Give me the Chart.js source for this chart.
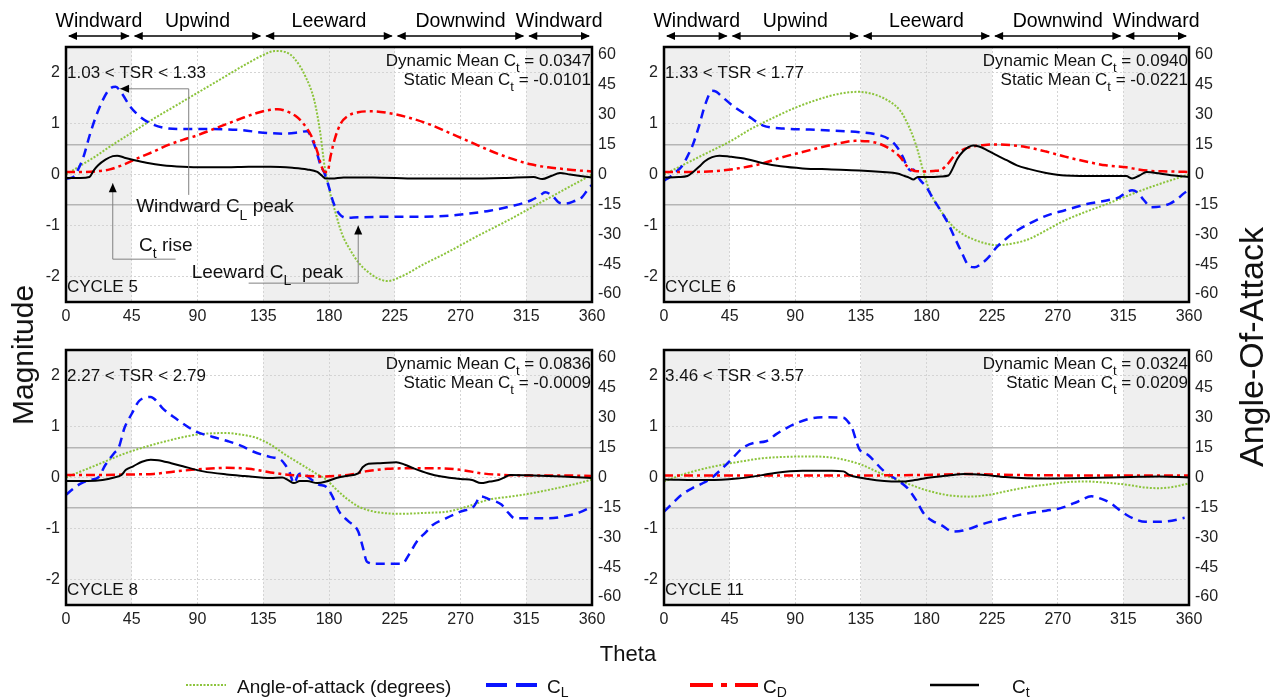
<!DOCTYPE html>
<html><head><meta charset="utf-8">
<script src="https://cdn.jsdelivr.net/npm/chart.js@4.4.0/dist/chart.umd.min.js"></script>
<style>
body{margin:0;background:#fff;width:1274px;height:697px;overflow:hidden;position:relative;font-family:'Liberation Sans',Arial,sans-serif;color:#111;}
canvas{position:absolute;left:0;top:0;}
.t{position:absolute;white-space:nowrap;transform:translate(-50%,-50%);line-height:1;}
.rot{transform:translate(-50%,-50%) rotate(-90deg);}
.lg{position:absolute;white-space:nowrap;font-size:19px;line-height:1;transform:translateY(-50%);}
.lg sub{font-size:14px;vertical-align:-4px;line-height:0;}
svg{position:absolute;}
</style></head><body>
<canvas id="c1" width="1274" height="697"></canvas>
<canvas id="c2" width="1274" height="697"></canvas>
<canvas id="c3" width="1274" height="697"></canvas>
<canvas id="c4" width="1274" height="697"></canvas>

<div class="t" style="left:628px;top:654px;font-size:22px">Theta</div>
<div class="t rot" style="left:23px;top:355px;font-size:30px">Magnitude</div>
<div class="t rot" style="left:1251px;top:347px;font-size:34px">Angle-Of-Attack</div>

<svg style="left:184px;top:678px" width="44" height="14"><line x1="2" y1="7" x2="42" y2="7" stroke="#8cc43c" stroke-width="2" stroke-dasharray="2 1.5"/></svg>
<div class="lg" style="left:237px;top:686px">Angle-of-attack (degrees)</div>
<svg style="left:484px;top:678px" width="56" height="14"><line x1="2" y1="7" x2="53" y2="7" stroke="#0a14ff" stroke-width="4" stroke-dasharray="21 9"/></svg>
<div class="lg" style="left:547px;top:686px">C<sub>L</sub></div>
<svg style="left:688px;top:678px" width="72" height="14"><line x1="2" y1="7" x2="70" y2="7" stroke="#ff0000" stroke-width="4" stroke-dasharray="23 8 6 8 23"/></svg>
<div class="lg" style="left:763px;top:686px">C<sub>D</sub></div>
<svg style="left:928px;top:678px" width="54" height="14"><line x1="2" y1="7" x2="51" y2="7" stroke="#000" stroke-width="2.5"/></svg>
<div class="lg" style="left:1012px;top:686px">C<sub>t</sub></div>

<script>
// ---------------- DATA ----------------
const X_TICKS=[0,45,90,135,180,225,270,315,360];
const MAG_TICKS=[-2,-1,0,1,2];
const AOA_TICKS=[-60,-45,-30,-15,0,15,30,45,60];
const SECTION_NAMES=['Windward','Upwind','Leeward','Downwind','Windward'];
const SECTION_BOUNDS=[0,45,135,225,315,360];
const SHADED=[[0,45],[135,225],[315,360]];
const CYCLE_LABELS=['CYCLE 5','CYCLE 6','CYCLE 8','CYCLE 11'];
const TSR_LABELS=['1.03 < TSR < 1.33','1.33 < TSR < 1.77','2.27 < TSR < 2.79','3.46 < TSR < 3.57'];
const DYNAMIC_MEAN_CT=['0.0347','0.0940','0.0836','0.0324'];
const STATIC_MEAN_CT=['-0.0101','-0.0221','-0.0009','0.0209'];

// Cycle 5
const C5_AOA_T=[0,10,20,30,45,60,75,90,105,120,135,143,150,156,164,170,174,177,178,181,184,189,195,200,206,213,220,230,245,260,280,300,320,340,360];
const C5_AOA=[0,4.5,9,14,21,28,34.5,41,47.5,54,60,62,61.5,58.5,49,37,21,4,0,-10,-18,-30,-38.5,-44,-48.5,-52,-53.5,-51,-45,-39.5,-31.5,-24,-16,-8,0];
const C5_CL_T=[0,5,8,12,16,20,25,30,34,38,44,50,58,66,80,100,120,135,150,160,165,168,171,174,177,180,183,187,192,200,220,240,262,275,290,305,318,324,328,333,338,342,348,353,357,360];
const C5_CL=[-0.08,-0.05,0.08,0.35,0.75,1.1,1.45,1.68,1.72,1.6,1.33,1.15,1.0,0.92,0.89,0.89,0.87,0.82,0.8,0.83,0.85,0.72,0.5,0.2,0.02,-0.25,-0.55,-0.77,-0.85,-0.84,-0.83,-0.83,-0.81,-0.77,-0.71,-0.62,-0.51,-0.42,-0.35,-0.42,-0.56,-0.57,-0.52,-0.45,-0.3,-0.2];
const C5_CD_T=[0,10,20,30,40,50,60,70,80,90,100,110,120,130,140,145,150,157,163,168,172,175,177,179,181,184,188,193,200,210,220,234,250,262,275,290,305,318,330,340,350,360];
const C5_CD=[0.05,0.05,0.06,0.1,0.2,0.33,0.45,0.58,0.68,0.77,0.88,0.99,1.1,1.2,1.27,1.28,1.25,1.15,0.98,0.75,0.45,0.15,0.05,0.05,0.35,0.7,1.0,1.15,1.22,1.24,1.21,1.12,0.97,0.82,0.66,0.47,0.31,0.2,0.14,0.11,0.08,0.06];
const C5_CT_T=[0,10,16,19,22,27,32,35,40,47,55,66,80,95,110,125,140,155,165,172,175,178,182,190,210,240,270,300,320,326,332,338,345,352,360];
const C5_CT=[-0.07,-0.07,-0.05,0.08,0.18,0.29,0.36,0.37,0.33,0.28,0.23,0.18,0.15,0.14,0.14,0.15,0.15,0.13,0.1,0.05,-0.02,-0.08,-0.08,-0.06,-0.06,-0.08,-0.08,-0.07,-0.05,-0.09,-0.03,0.03,0.0,-0.03,-0.06];

// Cycle 6
const C6_AOA_T=[0,15,30,45,60,75,90,105,120,133,145,155,162,166,170,174,178,182,186,190,198,205,212,220,228,240,250,262,275,290,303,315,331,345,360];
const C6_AOA=[0,5.5,11,16.5,23,28.5,33.5,37.5,40.5,41.5,40,36.5,32,27,20.5,12,1,-8,-14,-18.5,-26,-30,-32.5,-34.5,-35.5,-34.5,-32.5,-28,-23,-18.5,-15,-11.5,-7,-3.5,0];
const C6_CL_T=[0,4,8,12,16,20,24,28,33,36,40,48,57,68,82,100,115,134,148,155,160,164,167,169,171,173,176,180,184,190,195,200,204,209,213,217,222,228,235,240,250,262,275,290,305,312,317,321,325,329,334,340,347,352,356,360];
const C6_CL=[-0.12,-0.05,0.05,0.15,0.35,0.6,0.95,1.35,1.64,1.62,1.52,1.33,1.16,0.96,0.9,0.88,0.86,0.83,0.77,0.68,0.53,0.33,0.14,0.08,0.1,0.0,-0.12,-0.25,-0.45,-0.72,-0.97,-1.28,-1.52,-1.79,-1.82,-1.76,-1.64,-1.43,-1.25,-1.14,-0.97,-0.81,-0.7,-0.58,-0.5,-0.45,-0.35,-0.31,-0.36,-0.5,-0.64,-0.63,-0.57,-0.48,-0.38,-0.3];
const C6_CD_T=[0,20,40,55,68,80,95,110,120,131,140,148,155,162,167,172,178,185,190,195,200,206,212,220,228,240,248,262,275,290,303,317,325,334,345,360];
const C6_CD=[0.05,0.05,0.08,0.14,0.22,0.33,0.44,0.55,0.61,0.66,0.65,0.6,0.5,0.34,0.15,0.07,0.06,0.07,0.09,0.22,0.4,0.5,0.55,0.58,0.59,0.57,0.54,0.45,0.35,0.25,0.18,0.14,0.1,0.07,0.06,0.05];
const C6_CT_T=[0,10,16,20,24,28,33,38,45,57,68,80,95,115,134,150,160,165,168,171,174,180,190,195,198,201,205,209,212,216,222,228,235,242,250,262,275,300,317,321,326,331,340,350,360];
const C6_CT=[-0.06,-0.05,-0.03,0.05,0.15,0.26,0.34,0.37,0.35,0.3,0.22,0.16,0.12,0.1,0.08,0.05,0.02,-0.03,-0.06,-0.1,-0.05,-0.05,-0.04,-0.02,0.12,0.3,0.45,0.54,0.57,0.55,0.47,0.38,0.28,0.18,0.11,0.03,-0.02,-0.03,-0.03,-0.08,-0.02,0.05,0.02,-0.02,-0.05];

// Cycle 8
const C8_AOA_T=[0,10,25,40,55,70,85,100,110,120,130,140,150,160,170,178,185,192,200,210,220,230,245,262,275,290,305,318,335,350,360];
const C8_AOA=[0,3,7.5,12,15.5,18.5,21,22.2,22.3,21.5,20,16.5,11.5,7,2.5,-1,-6,-10.5,-14.5,-17,-18,-18.2,-17.8,-17,-14.5,-11,-9.5,-8,-5.5,-3,-1];
const C8_CL_T=[0,5,10,16,22,27,33,36,40,45,50,55,58,62,66,75,89,100,111,120,128,140,147,150,153,156,159,162,167,173,178,182,187,193,200,203,206,212,220,230,235,240,246,251,260,270,279,284,290,298,303,307,318,330,346,352,360];
const C8_CL=[-0.34,-0.22,-0.12,-0.05,0.0,0.25,0.48,0.58,0.97,1.25,1.5,1.57,1.58,1.5,1.36,1.16,0.9,0.8,0.71,0.62,0.51,0.4,0.35,0.25,0.1,-0.11,0.05,0.08,-0.02,-0.14,-0.18,-0.35,-0.67,-0.85,-1.06,-1.35,-1.65,-1.69,-1.69,-1.69,-1.5,-1.26,-1.08,-0.93,-0.8,-0.67,-0.57,-0.37,-0.43,-0.53,-0.7,-0.8,-0.8,-0.8,-0.73,-0.68,-0.57];
const C8_CD_T=[0,20,45,60,75,95,110,125,140,150,165,175,185,195,205,220,235,255,270,285,300,320,340,360];
const C8_CD=[0.05,0.05,0.06,0.07,0.12,0.17,0.19,0.17,0.1,0.06,0.03,0.02,0.03,0.06,0.12,0.17,0.18,0.18,0.15,0.08,0.05,0.04,0.04,0.03];
const C8_CT_T=[0,15,25,33,38,41,46,52,58,63,72,80,94,110,122,140,148,152,156,160,165,172,178,185,192,200,203,207,215,226,232,238,248,257,270,278,284,290,296,300,304,320,340,360];
const C8_CT=[-0.07,-0.07,-0.05,0.0,0.05,0.15,0.22,0.31,0.35,0.34,0.28,0.22,0.12,0.06,0.03,-0.01,0.0,-0.05,-0.11,-0.07,-0.07,-0.11,-0.08,-0.01,0.03,0.08,0.2,0.27,0.28,0.3,0.25,0.18,0.08,0.02,-0.03,-0.05,-0.11,-0.08,-0.05,0.0,0.05,0.04,0.02,-0.01];

// Cycle 11
const C11_AOA_T=[0,12,25,40,55,68,85,101,115,123,135,151,165,179,195,209,222,234,248,262,275,289,303,317,330,339,350,360];
const C11_AOA=[-2,1.3,4,6.4,8.3,9.7,10.4,10.6,10,9,6.5,1.3,-2.5,-6.2,-8.9,-9.6,-8.8,-7,-5,-3.6,-2.4,-2,-2.6,-3.6,-5,-5.4,-4.6,-2.9];
const C11_CL_T=[0,6,12,20,26,33,40,47,54,62,70,77,84,92,101,112,123,126,129,132,134,140,151,160,167,173,178,184,190,198,205,220,235,248,262,272,284,293,300,306,312,317,324,330,345,357];
const C11_CL=[-0.67,-0.5,-0.34,-0.2,-0.12,0.0,0.18,0.38,0.58,0.68,0.71,0.85,0.97,1.08,1.16,1.18,1.17,1.1,0.97,0.7,0.55,0.44,0.12,-0.05,-0.21,-0.45,-0.7,-0.85,-0.93,-1.06,-1.04,-0.9,-0.79,-0.71,-0.65,-0.6,-0.47,-0.37,-0.42,-0.5,-0.63,-0.73,-0.83,-0.87,-0.86,-0.79];
const C11_CD_T=[0,60,120,180,210,240,300,360];
const C11_CD=[0.04,0.04,0.04,0.05,0.07,0.05,0.04,0.04];
const C11_CT_T=[0,30,50,68,76,95,115,123,127,140,151,162,172,180,195,206,220,234,262,290,320,340,360];
const C11_CT=[-0.04,-0.05,-0.02,0.05,0.09,0.13,0.13,0.12,0.05,-0.03,-0.07,-0.08,-0.05,-0.01,0.04,0.07,0.05,0.01,-0.02,-0.01,0.01,0.02,0.0];

// ---------------- STYLE / LAYOUT ----------------
const FONT="'Liberation Sans', Arial, Helvetica, sans-serif";
Chart.defaults.font.family=FONT;
const STYLE={
  aoa:{color:'#8cc43c',width:2,dash:[2,1.6]},
  cl:{color:'#0a14ff',width:2.5,dash:[9,6]},
  cd:{color:'#ff0000',width:2.5,dash:[9,4,3,4]},
  ct:{color:'#000000',width:2,dash:[]}
};
const WL=40, WR=44, HX=30;
const AREAS=[
  {L:66,R:592,T:47,B:302},
  {L:664,R:1189,T:47,B:302},
  {L:66,R:592,T:350,B:605},
  {L:664,R:1189,T:350,B:605}
];
const SERIES=[
  [[C5_AOA_T,C5_AOA],[C5_CL_T,C5_CL],[C5_CD_T,C5_CD],[C5_CT_T,C5_CT]],
  [[C6_AOA_T,C6_AOA],[C6_CL_T,C6_CL],[C6_CD_T,C6_CD],[C6_CT_T,C6_CT]],
  [[C8_AOA_T,C8_AOA],[C8_CL_T,C8_CL],[C8_CD_T,C8_CD],[C8_CT_T,C8_CT]],
  [[C11_AOA_T,C11_AOA],[C11_CL_T,C11_CL],[C11_CD_T,C11_CD],[C11_CT_T,C11_CT]]
];
// annotation arrows for cycle 5 panel, in data coordinates (theta, magnitude)
const NOTES=[
  {path:[[84,-0.4],[84,1.68],[37,1.68]],head:'l',text:[['Windward C'],['L',1],[' peak']],at:[48,-0.64]},
  {path:[[75,-1.66],[32,-1.66],[32,-0.17]],head:'u',text:[['C'],['t',1],[' rise']],at:[50,-1.4]},
  {path:[[125,-2.13],[200,-2.13],[200,-1.0]],head:'u',text:[['Leeward C'],['L',1],['  peak']],at:[86,-1.93]}
];

function pts(t,v){return t.map((x,i)=>({x:x,y:v[i]}));}
function mk(kind,t,v,axis,lab){const s=STYLE[kind];return {label:lab,data:pts(t,v),borderColor:s.color,borderWidth:s.width,borderDash:s.dash,yAxisID:axis,pointRadius:0,fill:false,cubicInterpolationMode:'monotone'};}

function rich(ctx,parts,x,y,align,size){
  const sub=Math.round(size*0.75);
  const ws=parts.map(p=>{ctx.font=(p[1]?sub:size)+'px '+FONT;return ctx.measureText(p[0]).width;});
  const tot=ws.reduce((a,b)=>a+b,0);
  let cx=align==='right'?x-tot:(align==='center'?x-tot/2:x);
  ctx.textAlign='left';ctx.textBaseline='middle';
  parts.forEach((p,i)=>{ctx.font=(p[1]?sub:size)+'px '+FONT;ctx.fillText(p[0],cx,p[1]?y+size*0.45:y);cx+=ws[i];});
}
function head(ctx,x,y,dir){
  const L=9,W=4;ctx.beginPath();
  if(dir==='l'){ctx.moveTo(x,y);ctx.lineTo(x+L,y-W);ctx.lineTo(x+L,y+W);}
  else if(dir==='r'){ctx.moveTo(x,y);ctx.lineTo(x-L,y-W);ctx.lineTo(x-L,y+W);}
  else {ctx.moveTo(x,y);ctx.lineTo(x-W,y+L);ctx.lineTo(x+W,y+L);}
  ctx.closePath();ctx.fill();
}

const deco={
  id:'deco',
  beforeDraw(chart,args,o){
    const {ctx,chartArea:a,scales:{x}}=chart;
    ctx.save();ctx.fillStyle='#efefef';
    SHADED.forEach(([s,e])=>{const x0=x.getPixelForValue(s),x1=x.getPixelForValue(e);ctx.fillRect(x0,a.top,x1-x0,a.bottom-a.top);});
    ctx.restore();
  },
  afterDatasetsDraw(chart,args,o){
    const {ctx,chartArea:a,scales}=chart;const x=scales.x,y=scales.y;
    ctx.save();
    ctx.strokeStyle='#000';ctx.lineWidth=2.5;ctx.strokeRect(a.left,a.top,a.right-a.left,a.bottom-a.top);
    ctx.fillStyle='#111';
    rich(ctx,[['Dynamic Mean C'],['t',1],[' = '+DYNAMIC_MEAN_CT[o.i]]],a.right-1,a.top+14,'right',17);
    rich(ctx,[['Static Mean C'],['t',1],[' = '+STATIC_MEAN_CT[o.i]]],a.right-1,a.top+33,'right',17);
    rich(ctx,[[TSR_LABELS[o.i]]],a.left+1,a.top+26,'left',17);
    rich(ctx,[[CYCLE_LABELS[o.i]]],a.left+1,a.bottom-15,'left',17);
    if(o.header){
      const yT=a.top-25,yA=a.top-11;
      ctx.lineWidth=1.5;ctx.strokeStyle='#000';ctx.fillStyle='#000';
      for(let i=0;i<SECTION_NAMES.length;i++){
        const x0=x.getPixelForValue(SECTION_BOUNDS[i]),x1=x.getPixelForValue(SECTION_BOUNDS[i+1]);
        ctx.font='19.5px '+FONT;ctx.textAlign='center';ctx.textBaseline='middle';
        ctx.fillText(SECTION_NAMES[i],(x0+x1)/2,yT);
        ctx.beginPath();ctx.moveTo(x0+3,yA);ctx.lineTo(x1-3,yA);ctx.stroke();
        head(ctx,x0+2,yA,'l');head(ctx,x1-2,yA,'r');
      }
    }
    if(o.notes){
      NOTES.forEach(n=>{
        ctx.strokeStyle='#808080';ctx.lineWidth=1;ctx.beginPath();
        n.path.forEach((p,k)=>{const px=x.getPixelForValue(p[0]),py=y.getPixelForValue(p[1]);k?ctx.lineTo(px,py):ctx.moveTo(px,py);});
        ctx.stroke();
        const last=n.path[n.path.length-1];ctx.fillStyle='#000';
        head(ctx,x.getPixelForValue(last[0]),y.getPixelForValue(last[1]),n.head);
        ctx.fillStyle='#111';
        rich(ctx,n.text,x.getPixelForValue(n.at[0]),y.getPixelForValue(n.at[1]),'left',19);
      });
    }
    ctx.restore();
  }
};

AREAS.forEach((A,i)=>{
  const S=SERIES[i];
  new Chart(document.getElementById('c'+(i+1)),{
    type:'line',
    data:{datasets:[
      mk('ct',S[3][0],S[3][1],'y','Ct'),
      mk('cd',S[2][0],S[2][1],'y','CD'),
      mk('cl',S[1][0],S[1][1],'y','CL'),
      mk('aoa',S[0][0],S[0][1],'y1','Angle-of-attack (degrees)')
    ]},
    options:{
      responsive:false,animation:false,devicePixelRatio:1,
      layout:{padding:{left:A.L-WL,right:1274-A.R-WR,top:A.T,bottom:697-A.B-HX}},
      plugins:{legend:{display:false},tooltip:{enabled:false},deco:{i:i,header:i<2,notes:i===0}},
      scales:{
        x:{type:'linear',min:0,max:360,
          afterBuildTicks:s=>{s.ticks=X_TICKS.map(v=>({value:v}));},
          afterFit:s=>{s.height=HX;},
          ticks:{font:{size:16},color:'#222',padding:5,maxRotation:0,autoSkip:false},
          grid:{color:'#d4d4d4',lineWidth:1,drawTicks:false},
          border:{display:false,dash:[2,2]}},
        y:{type:'linear',position:'left',min:-2.5,max:2.5,
          afterBuildTicks:s=>{s.ticks=MAG_TICKS.map(v=>({value:v}));},
          afterFit:s=>{s.width=WL;},
          ticks:{font:{size:16},color:'#222',padding:6},
          grid:{color:'#d4d4d4',lineWidth:1,drawTicks:false},
          border:{display:false,dash:[2,2]}},
        y1:{type:'linear',position:'right',min:-64,max:64,
          afterBuildTicks:s=>{s.ticks=AOA_TICKS.map(v=>({value:v}));},
          afterFit:s=>{s.width=WR;},
          ticks:{font:{size:16},color:'#222',padding:6},
          grid:{color:c=>(c.tick&&Math.abs(c.tick.value)===15)?'#b5b5b5':'rgba(0,0,0,0)',lineWidth:1.5,drawTicks:false},
          border:{display:false,dash:[]}}
      }
    },
    plugins:[deco]
  });
});
</script>
</body></html>
